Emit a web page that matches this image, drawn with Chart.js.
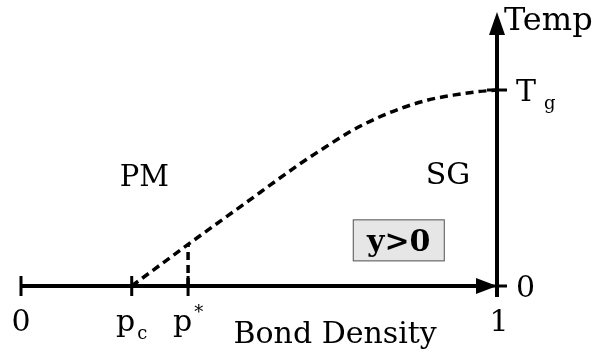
<!DOCTYPE html>
<html>
<head>
<meta charset="utf-8">
<script src="https://cdn.jsdelivr.net/npm/chart.js@4"></script>
<style>
  html, body { margin: 0; padding: 0; background: #fff; }
  #wrap { width: 603px; height: 358px; }
</style>
</head>
<body>
<div id="wrap"><canvas id="phase" width="603" height="358"></canvas></div>
<script>
// Freezing line T(p), in units of Tg, from the percolation threshold up to p = 1
const bondDensity = [0.2326, 0.351, 0.464, 0.586, 0.639, 0.691, 0.747, 0.805, 0.855, 0.908, 0.954, 1.0];
const freezingTemp = [0.0, 0.212, 0.41, 0.623, 0.708, 0.787, 0.856, 0.912, 0.949, 0.974, 0.99, 1.0];

// Special bond densities
const pC = 0.2326;
const pStar = 0.351;
const pStarTemp = 0.212;

// Axis ticks ("_" = subscript, "^" = superscript)
const xTickValues = [0, pC, pStar, 1];
const xTickLabels = ['0', 'p_c', 'p^*', '1'];
const yTickValues = [0, 1];
const yTickLabels = ['0', 'T_g'];

const xTitle = 'Bond Density';
const yTitle = 'Temp';
const phaseLabels = ['PM', 'SG'];
const fieldLabel = 'y>0';

const SERIF = '"DejaVu Serif", serif';

function drawRich(ctx, text, x, y, size, align, gap) {
  // text like "p_c" or "p^*"; y is the baseline of the main glyph
  let main = text, sub = null, sup = null;
  if (text.includes('_')) { [main, sub] = text.split('_'); }
  else if (text.includes('^')) { [main, sup] = text.split('^'); }
  const small = Math.round(size * 0.6);
  ctx.font = size + 'px ' + SERIF;
  const wMain = ctx.measureText(main).width;
  ctx.font = small + 'px ' + SERIF;
  const extra = sub || sup;
  const wExtra = extra ? ctx.measureText(extra).width + gap : 0;
  let x0 = x;
  if (align === 'center') x0 = x - (wMain + wExtra) / 2;
  ctx.textAlign = 'left';
  ctx.textBaseline = 'alphabetic';
  ctx.font = size + 'px ' + SERIF;
  ctx.fillText(main, x0, y);
  if (sub) {
    ctx.font = small + 'px ' + SERIF;
    ctx.fillText(sub, x0 + wMain + gap, y + size * 0.25);
  } else if (sup) {
    ctx.font = small + 'px ' + SERIF;
    ctx.fillText(sup, x0 + wMain + gap, y - size * 0.42);
  }
}

const phaseAxes = {
  id: 'phaseAxes',
  afterDatasetsDraw(chart) {
    const ctx = chart.ctx;
    const xs = chart.scales.x, ys = chart.scales.y;
    const X = v => xs.getPixelForValue(v);
    const Y = v => ys.getPixelForValue(v);
    const x0 = X(0), x1 = X(1), y0 = Y(0), yTop = ys.top;
    ctx.save();
    ctx.fillStyle = '#000';
    ctx.strokeStyle = '#000';
    ctx.lineCap = 'butt';

    // horizontal axis with arrow at p = 1
    ctx.lineWidth = 4;
    ctx.beginPath(); ctx.moveTo(x0, y0); ctx.lineTo(x1 - 18, y0); ctx.stroke();
    ctx.beginPath();
    ctx.moveTo(x1, y0); ctx.lineTo(x1 - 21, y0 - 8); ctx.lineTo(x1 - 21, y0 + 8); ctx.closePath(); ctx.fill();

    // vertical temperature axis with arrow
    ctx.beginPath(); ctx.moveTo(x1, y0 + 11); ctx.lineTo(x1, yTop + 20); ctx.stroke();
    ctx.beginPath();
    ctx.moveTo(x1, yTop); ctx.lineTo(x1 - 8, yTop + 23); ctx.lineTo(x1 + 8, yTop + 23); ctx.closePath(); ctx.fill();

    // x ticks
    ctx.lineWidth = 3;
    xTickValues.forEach(v => {
      if (v === 1) return;
      ctx.beginPath(); ctx.moveTo(X(v), y0 - 10); ctx.lineTo(X(v), y0 + 10); ctx.stroke();
    });
    // y ticks
    yTickValues.forEach(v => {
      ctx.beginPath(); ctx.moveTo(x1 - 10, Y(v)); ctx.lineTo(x1 + 10, Y(v)); ctx.stroke();
    });

    // x tick labels
    xTickValues.forEach((v, i) => {
      drawRich(ctx, xTickLabels[i], X(v) + (v === 1 ? 2 : 0), y0 + 45, 30, 'center', 2);
    });
    // y tick labels
    yTickValues.forEach((v, i) => {
      drawRich(ctx, yTickLabels[i], x1 + 19, Y(v) + 11, 30, 'left', 8);
    });

    // axis titles
    ctx.fillStyle = '#000';
    ctx.font = '30px ' + SERIF;
    ctx.textAlign = 'center';
    ctx.textBaseline = 'alphabetic';
    ctx.fillText(xTitle, X(0.66), y0 + 57);
    ctx.textAlign = 'left';
    ctx.font = '32px ' + SERIF;
    ctx.fillText(yTitle, x1 + 7, yTop + 18);

    // phase labels
    ctx.textAlign = 'center';
    ctx.font = '29px ' + SERIF;
    ctx.fillText(phaseLabels[0], X(0.259), Y(0.51));
    ctx.font = '30px ' + SERIF;
    ctx.fillText(phaseLabels[1], X(0.897), Y(0.52));

    // field box
    const bx = X(0.697), by = Y(0.34), bw = 92, bh = 42;
    ctx.fillStyle = '#e6e6e6';
    ctx.fillRect(bx, by, bw, bh);
    ctx.lineWidth = 1;
    ctx.strokeStyle = '#555';
    ctx.strokeRect(bx + 0.5, by + 0.5, bw - 1, bh - 1);
    ctx.fillStyle = '#000';
    ctx.font = 'bold 30px ' + SERIF;
    ctx.textAlign = 'center';
    ctx.fillText(fieldLabel, bx + bw / 2, by + 32);
    ctx.restore();
  }
};

new Chart(document.getElementById('phase'), {
  type: 'scatter',
  data: {
    datasets: [
      {
        data: bondDensity.map((p, i) => ({ x: p, y: freezingTemp[i] })),
        showLine: true,
        borderColor: '#000',
        borderWidth: 3.5,
        borderDash: [8, 5],
        pointRadius: 0,
        cubicInterpolationMode: 'monotone'
      },
      {
        data: [{ x: pStar, y: 0 }, { x: pStar, y: pStarTemp }],
        showLine: true,
        borderColor: '#000',
        borderWidth: 3.5,
        borderDash: [8, 5],
        pointRadius: 0
      }
    ]
  },
  options: {
    responsive: false,
    animation: false,
    devicePixelRatio: 1,
    layout: { padding: { left: 21, right: 106, top: 12, bottom: 72 } },
    plugins: { legend: { display: false }, tooltip: { enabled: false } },
    scales: {
      x: { type: 'linear', min: 0, max: 1, display: false },
      y: { type: 'linear', min: 0, max: 1.398, display: false }
    }
  },
  plugins: [phaseAxes]
});
</script>
</body>
</html>
